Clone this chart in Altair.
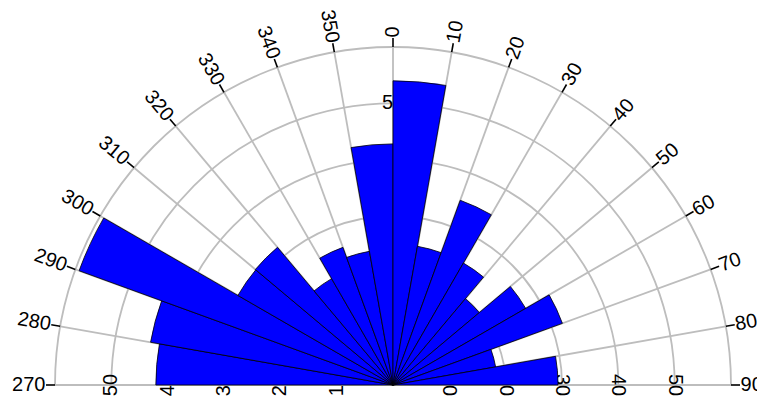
import math
import altair as alt
import pandas as pd

# ---- data ----
bin_start = [270, 280, 290, 300, 310, 320, 330, 340, 350, 0, 10, 20, 30, 40, 50, 60, 70, 80]
bin_value = [42.1, 43.7, 59.3, 31.8, 31.9, 21.8, 26.0, 24.1, 42.8, 54.0, 25.0, 34.9, 25.0, 20.0, 27.2, 32.0, 18.5, 29.3]
ring_values = [10, 20, 30, 40, 50, 60]
radial_label_values = [10, 20, 30, 40, 50]
spoke_angles = [270, 280, 290, 300, 310, 320, 330, 340, 350, 0, 10, 20, 30, 40, 50, 60, 70, 80, 90]
left_dir_labels = [270, 280, 290, 300, 310, 320, 330, 340, 350]
right_dir_labels = [0, 10, 20, 30, 40, 50, 60, 70, 80, 90]

# ---- layout ----
W, H = 749, 393
CX, CY, R = 385, 377, 338
RMAX = 60
TICK = 1.6
LAB = 1.7
FONT = "Liberation Sans"
FS = 20
GRID = "#bdbdbd"

xscale = alt.Scale(domain=[-RMAX, RMAX], range=[CX - R, CX + R], nice=False, zero=False)
yscale = alt.Scale(domain=[0, RMAX], range=[CY, CY - R], nice=False, zero=False)
rscale = alt.Scale(type="linear", domain=[0, RMAX], range=[0, R], nice=False, zero=True)
tscale = alt.Scale(domain=[-90, 90], range=[-math.pi / 2, math.pi / 2], nice=False, zero=False)

# rings
rings = alt.Chart(pd.DataFrame({"r": ring_values})).transform_calculate(
    a0="-90", a1="90"
).mark_arc(filled=False, stroke=GRID, strokeWidth=1.8).encode(
    x=alt.value(CX), y=alt.value(CY),
    theta=alt.Theta("a0:Q", scale=tscale, stack=None),
    theta2=alt.Theta2("a1:Q"),
    radius=alt.Radius("r:Q", scale=rscale),
    radius2=alt.Radius2("r:Q"),
)

# spokes
spokes = alt.Chart(pd.DataFrame({"deg": spoke_angles})).transform_calculate(
    ox="0", oy="0",
    ex=f"{RMAX}*sin(datum.deg*PI/180)",
    ey=f"{RMAX}*cos(datum.deg*PI/180)",
).mark_rule(color=GRID, strokeWidth=1.8).encode(
    x=alt.X("ox:Q", scale=xscale, axis=None),
    y=alt.Y("oy:Q", scale=yscale, axis=None),
    x2="ex:Q", y2="ey:Q",
)

# radial labels (drawn beneath the bars)
rl = pd.DataFrame({"v": radial_label_values})
rl_left = alt.Chart(rl).transform_calculate(px="-datum.v", py="0").mark_text(
    font=FONT, fontSize=FS, angle=270, align="center", baseline="middle", color="black"
).encode(x=alt.X("px:Q", scale=xscale, axis=None), y=alt.Y("py:Q", scale=yscale, axis=None), text="v:N")
rl_right = alt.Chart(rl).transform_calculate(px="datum.v", py="0").mark_text(
    font=FONT, fontSize=FS, angle=90, align="center", baseline="middle", color="black"
).encode(x=alt.X("px:Q", scale=xscale, axis=None), y=alt.Y("py:Q", scale=yscale, axis=None), text="v:N")
rl_top = alt.Chart(rl).transform_calculate(px="0", py="datum.v").mark_text(
    font=FONT, fontSize=FS, angle=0, align="center", baseline="middle", color="black"
).encode(x=alt.X("px:Q", scale=xscale, axis=None), y=alt.Y("py:Q", scale=yscale, axis=None), text="v:N")

# bars
bars = alt.Chart(pd.DataFrame({"start": bin_start, "value": bin_value})).transform_calculate(
    t0="datum.start >= 180 ? datum.start - 360 : datum.start",
).transform_calculate(
    t1="datum.t0 + 10"
).mark_arc(fill="#0000FF", stroke="#000000", strokeWidth=0.8).encode(
    x=alt.value(CX), y=alt.value(CY),
    theta=alt.Theta("t0:Q", scale=tscale, stack=None),
    theta2=alt.Theta2("t1:Q"),
    radius=alt.Radius("value:Q", scale=rscale),
    radius2=alt.value(0),
)

# ticks
ticks = alt.Chart(pd.DataFrame({"deg": spoke_angles})).transform_calculate(
    ox=f"{RMAX}*sin(datum.deg*PI/180)",
    oy=f"{RMAX}*cos(datum.deg*PI/180)",
    ex=f"{RMAX + TICK}*sin(datum.deg*PI/180)",
    ey=f"{RMAX + TICK}*cos(datum.deg*PI/180)",
).mark_rule(color="black", strokeWidth=1.6).encode(
    x=alt.X("ox:Q", scale=xscale, axis=None),
    y=alt.Y("oy:Q", scale=yscale, axis=None),
    x2="ex:Q", y2="ey:Q",
)

# direction labels
dl_left = alt.Chart(pd.DataFrame({"deg": left_dir_labels})).transform_calculate(
    px=f"{RMAX + LAB}*sin(datum.deg*PI/180)",
    py=f"{RMAX + LAB}*cos(datum.deg*PI/180)",
    rot="datum.deg - 270",
).mark_text(font=FONT, fontSize=FS, align="right", baseline="middle", color="black").encode(
    x=alt.X("px:Q", scale=xscale, axis=None),
    y=alt.Y("py:Q", scale=yscale, axis=None),
    angle=alt.Angle("rot:Q", scale=None),
    text="deg:N",
)
dl_right = alt.Chart(pd.DataFrame({"deg": right_dir_labels})).transform_calculate(
    px=f"{RMAX + LAB}*sin(datum.deg*PI/180)",
    py=f"{RMAX + LAB}*cos(datum.deg*PI/180)",
    rot="(datum.deg + 270) % 360",
).mark_text(font=FONT, fontSize=FS, align="left", baseline="middle", color="black").encode(
    x=alt.X("px:Q", scale=xscale, axis=None),
    y=alt.Y("py:Q", scale=yscale, axis=None),
    angle=alt.Angle("rot:Q", scale=None),
    text="deg:N",
)

chart = alt.layer(
    rings, spokes, rl_left, rl_right, rl_top, bars, ticks, dl_left, dl_right
).properties(
    width=W, height=H, padding=0, autosize=alt.AutoSizeParams(type="none")
).configure_view(stroke=None)

chart.save("out.html", embed_options={"renderer": "svg", "actions": False})
